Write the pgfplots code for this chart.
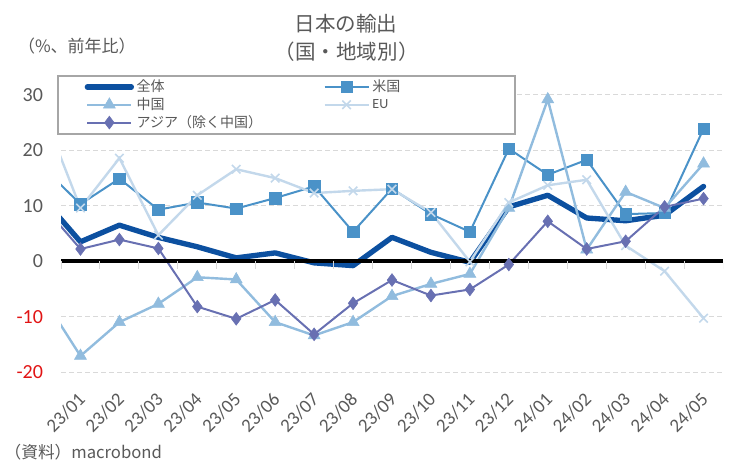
\documentclass[border=0pt]{standalone}
\usepackage{pgfplots}
\pgfplotsset{compat=1.18}
\usepackage{pgfplotstable}
\usepackage{fontspec}
\setmainfont{Carlito}
\newfontfamily\jp{Noto Sans CJK JP}

\definecolor{cTotal}{RGB}{12,80,160}
\definecolor{cUS}{RGB}{74,146,200}
\definecolor{cCN}{RGB}{145,188,222}
\definecolor{cEU}{RGB}{195,216,235}
\definecolor{cAS}{RGB}{104,112,178}
\definecolor{txt}{RGB}{89,89,89}
\definecolor{gridc}{RGB}{217,217,217}
\definecolor{legc}{RGB}{166,166,166}
\definecolor{negred}{RGB}{225,20,20}

% Japan exports, year-on-year % change by destination (x=-1 is 22/12)
\pgfplotstableread{
x   total  us    china  eu     asia
-1  11.6   17.2  -6.1   27.6   10.3
0   3.5    10.3  -17.1  9.6    2.2
1   6.5    14.9  -11.0  18.6   3.9
2   4.3    9.3   -7.7   4.7    2.3
3   2.6    10.6  -2.9   11.9   -8.2
4   0.6    9.5   -3.3   16.6   -10.4
5   1.5    11.4  -11.0  15.0   -7.0
6   -0.3   13.5  -13.4  12.3   -13.2
7   -0.8   5.3   -11.0  12.7   -7.6
8   4.3    13.1  -6.3   13.0   -3.4
9   1.6    8.5   -4.1   8.8    -6.2
10  -0.2   5.3   -2.3   -0.1   -5.1
11  9.8    20.3  9.6    10.6   -0.6
12  11.9   15.6  29.2   13.7   7.2
13  7.8    18.3  2.1    14.7   2.2
14  7.3    8.5   12.5   2.8    3.6
15  8.3    8.7   9.6    -1.8   9.8
16  13.5   23.9  17.6   -10.3  11.3
}\exports

\begin{document}
\begin{tikzpicture}
\useasboundingbox (0,0) rectangle (555.75pt,350.25pt);

\begin{axis}[
  at={(45.75pt,71.25pt)}, anchor=south west,
  width=496.5pt, height=207.75pt, scale only axis,
  xmin=-0.5, xmax=16.5, ymin=-20, ymax=30,
  xtick={0,...,16},
  xticklabels={23/01,23/02,23/03,23/04,23/05,23/06,23/07,23/08,23/09,23/10,23/11,23/12,24/01,24/02,24/03,24/04,24/05},
  ytick={-20,-10,0,10,20,30},
  yticklabels={\textcolor{negred}{-20},\textcolor{negred}{-10},0,10,20,30},
  axis line style={draw=none},
  major tick length=0pt,
  ymajorgrids,
  grid style={gridc, line width=0.75pt, dash pattern=on 3.5pt off 2.5pt},
  ticklabel style={font=\fontsize{15}{18}\selectfont, text=txt},
  yticklabel style={xshift=-10pt},
  xticklabel style={font=\fontsize{14.2}{17}\selectfont, xshift=3.5pt, yshift=-16pt, rotate=45, anchor=east},
  legend columns=2,
  legend cell align=left,
  legend style={
    at={(-0.006,1.072)}, anchor=north west,
    draw=legc, line width=1.5pt, fill=white,
    font=\jp\fontsize{10.5}{12}\selectfont, text=txt,
    inner xsep=20pt, inner ysep=1pt, row sep=-1pt,
  },
  legend image code/.code={
    \draw[mark repeat=2,mark phase=2,#1] plot coordinates {(0pt,0pt) (16.5pt,0pt) (33pt,0pt)};
  },
]

\addplot[cTotal, line width=4pt, line join=round, line cap=round, mark=none]
  table[x=x,y=total]{\exports};
\addlegendentry{\makebox[138pt][l]{全体}}

\addplot[cUS, line width=1.5pt, mark=square*, mark size=4.3pt, mark options={line width=0.4pt}]
  table[x=x,y=us]{\exports};
\addlegendentry{\makebox[85pt][l]{米国}}

\addplot[cCN, line width=1.8pt, mark=triangle*, mark size=5.2pt, mark options={line width=0.4pt}]
  table[x=x,y=china]{\exports};
\addlegendentry{\makebox[138pt][l]{中国}}

\addplot[cEU, line width=1.8pt, mark=x, mark size=4.5pt, mark options={line width=1.2pt}]
  table[x=x,y=eu]{\exports};
\addlegendentry{\makebox[85pt][l]{\fontspec{Carlito}EU}}

\addplot[cAS, line width=1.5pt, mark=diamond*, mark size=4.8pt, mark options={line width=0.4pt}]
  table[x=x,y=asia]{\exports};
\addlegendentry{\makebox[138pt][l]{アジア（除く中国）}}

% zero line and category separators
\addplot[black, line width=3pt, forget plot] coordinates {(-0.5,0) (16.5,0)};
\pgfplotsinvokeforeach{-0.5,0.5,...,16.5}{
  \draw[gridc, line width=0.75pt] (axis cs:#1,0) -- ([yshift=-5.5pt]axis cs:#1,0);
}
\end{axis}

\node[font=\jp\fontsize{15.4}{18}\selectfont, text=txt] at (259.5pt,332.5pt) {日本の輸出};
\node[font=\jp\fontsize{15.4}{18}\selectfont, text=txt] at (260pt,311.5pt) {（国・地域別）};
\node[anchor=west, font=\jp\fontsize{12.75}{15}\selectfont, text=txt] at (10pt,316pt) {（\%、前年比）};
\node[anchor=west, font=\jp\fontsize{12.5}{15}\selectfont, text=txt] at (0pt,11pt) {（資料）macrobond};
\end{tikzpicture}
\end{document}
